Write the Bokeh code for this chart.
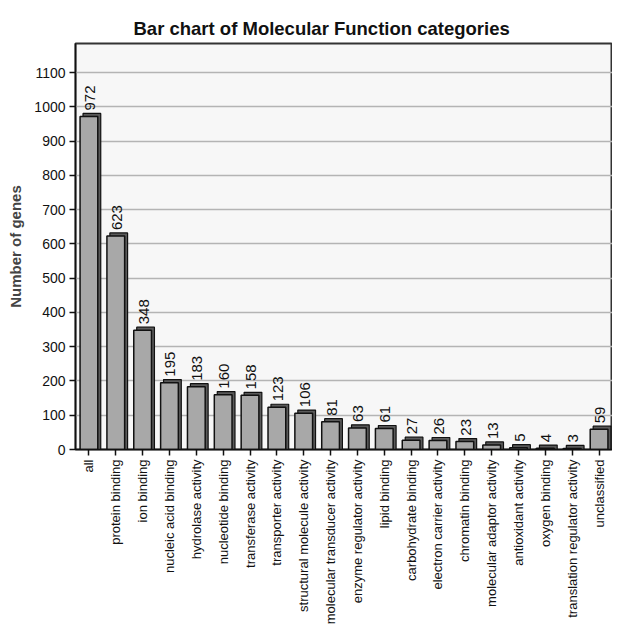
import math
from bokeh.plotting import figure
from bokeh.models import ColumnDataSource, LabelSet, Range1d, FactorRange, FixedTicker
from bokeh.core.properties import value
from bokeh.transform import dodge
from bokeh.embed import file_html
from bokeh.resources import INLINE

categories = [
    "all", "protein binding", "ion binding", "nucleic acid binding",
    "hydrolase activity", "nucleotide binding", "transferase activity",
    "transporter activity", "structural molecule activity",
    "molecular transducer activity", "enzyme regulator activity",
    "lipid binding", "carbohydrate binding", "electron carrier activity",
    "chromatin binding", "molecular adaptor activity", "antioxidant activity",
    "oxygen binding", "translation regulator activity", "unclassified",
]
genes = [972, 623, 348, 195, 183, 160, 158, 123, 106, 81, 63, 61, 27, 26, 23, 13, 5, 4, 3, 59]
y_ticks = [0, 100, 200, 300, 400, 500, 600, 700, 800, 900, 1000, 1100]

FONT = "Liberation Sans"
DEPTH = 9  # visual 3D depth in data units

source = ColumnDataSource(dict(
    cat=categories,
    genes=genes,
    label=[str(g) for g in genes],
    back_top=[g + DEPTH for g in genes],
))

p = figure(
    width=612, height=627,
    x_range=FactorRange(factors=categories),
    y_range=Range1d(0, 1185),
    output_backend="svg", toolbar_location=None,
    title="Bar chart of Molecular Function categories",
    min_border_left=75, min_border_right=0, min_border_top=43,
)

p.title.text_font = FONT
p.title.text_font_size = "18.5px"
p.title.text_font_style = "bold"
p.title.align = "left"
p.title.offset = 58
p.title.text_color = "#111111"

p.background_fill_color = "#f7f7f7"
p.border_fill_color = "white"
p.outline_line_color = "#333333"
p.outline_line_width = 2

p.ygrid.grid_line_color = "#b4b4b4"
p.ygrid.grid_line_width = 1.5
p.xgrid.grid_line_color = None

# 3D depth (back box)
p.vbar(x=dodge("cat", 0.11, range=p.x_range), top="back_top", bottom=0, width=0.66,
       source=source, fill_color="#5a5a5a", line_color="#111111", line_width=1.2)
# front face
p.vbar(x="cat", top="genes", bottom=0, width=0.66, source=source,
       fill_color="#a8a8a8", line_color="#111111", line_width=1.5)

labels = LabelSet(x="cat", y="genes", text="label", source=source,
                  angle=math.pi / 2, text_align="left", text_baseline="middle",
                  y_offset=6, x_offset=1, text_font=value(FONT),
                  text_font_size=value("15px"), text_color="#111111")
p.add_layout(labels)

p.yaxis.ticker = FixedTicker(ticks=y_ticks)
p.yaxis.axis_label = "Number of genes"
p.yaxis.axis_label_text_font = FONT
p.yaxis.axis_label_text_font_size = "15px"
p.yaxis.axis_label_text_font_style = "bold"
p.yaxis.axis_label_standoff = 7
p.yaxis.minor_tick_line_color = None

for ax in (p.xaxis, p.yaxis):
    ax.major_label_text_font = FONT
    ax.major_label_text_color = "#111111"
    ax.axis_line_color = "#111111"
    ax.axis_line_width = 1.5
    ax.major_tick_line_color = "#111111"
    ax.major_tick_line_width = 1.5
    ax.major_tick_in = 0
    ax.major_tick_out = 6

p.yaxis.major_label_text_font_size = "14px"
p.xaxis.major_label_text_font_size = "13px"
p.xaxis.major_label_orientation = math.pi / 2
p.xaxis.major_label_standoff = 4
p.yaxis.major_label_standoff = 4

open("out.html", "w").write(file_html(p, INLINE))
